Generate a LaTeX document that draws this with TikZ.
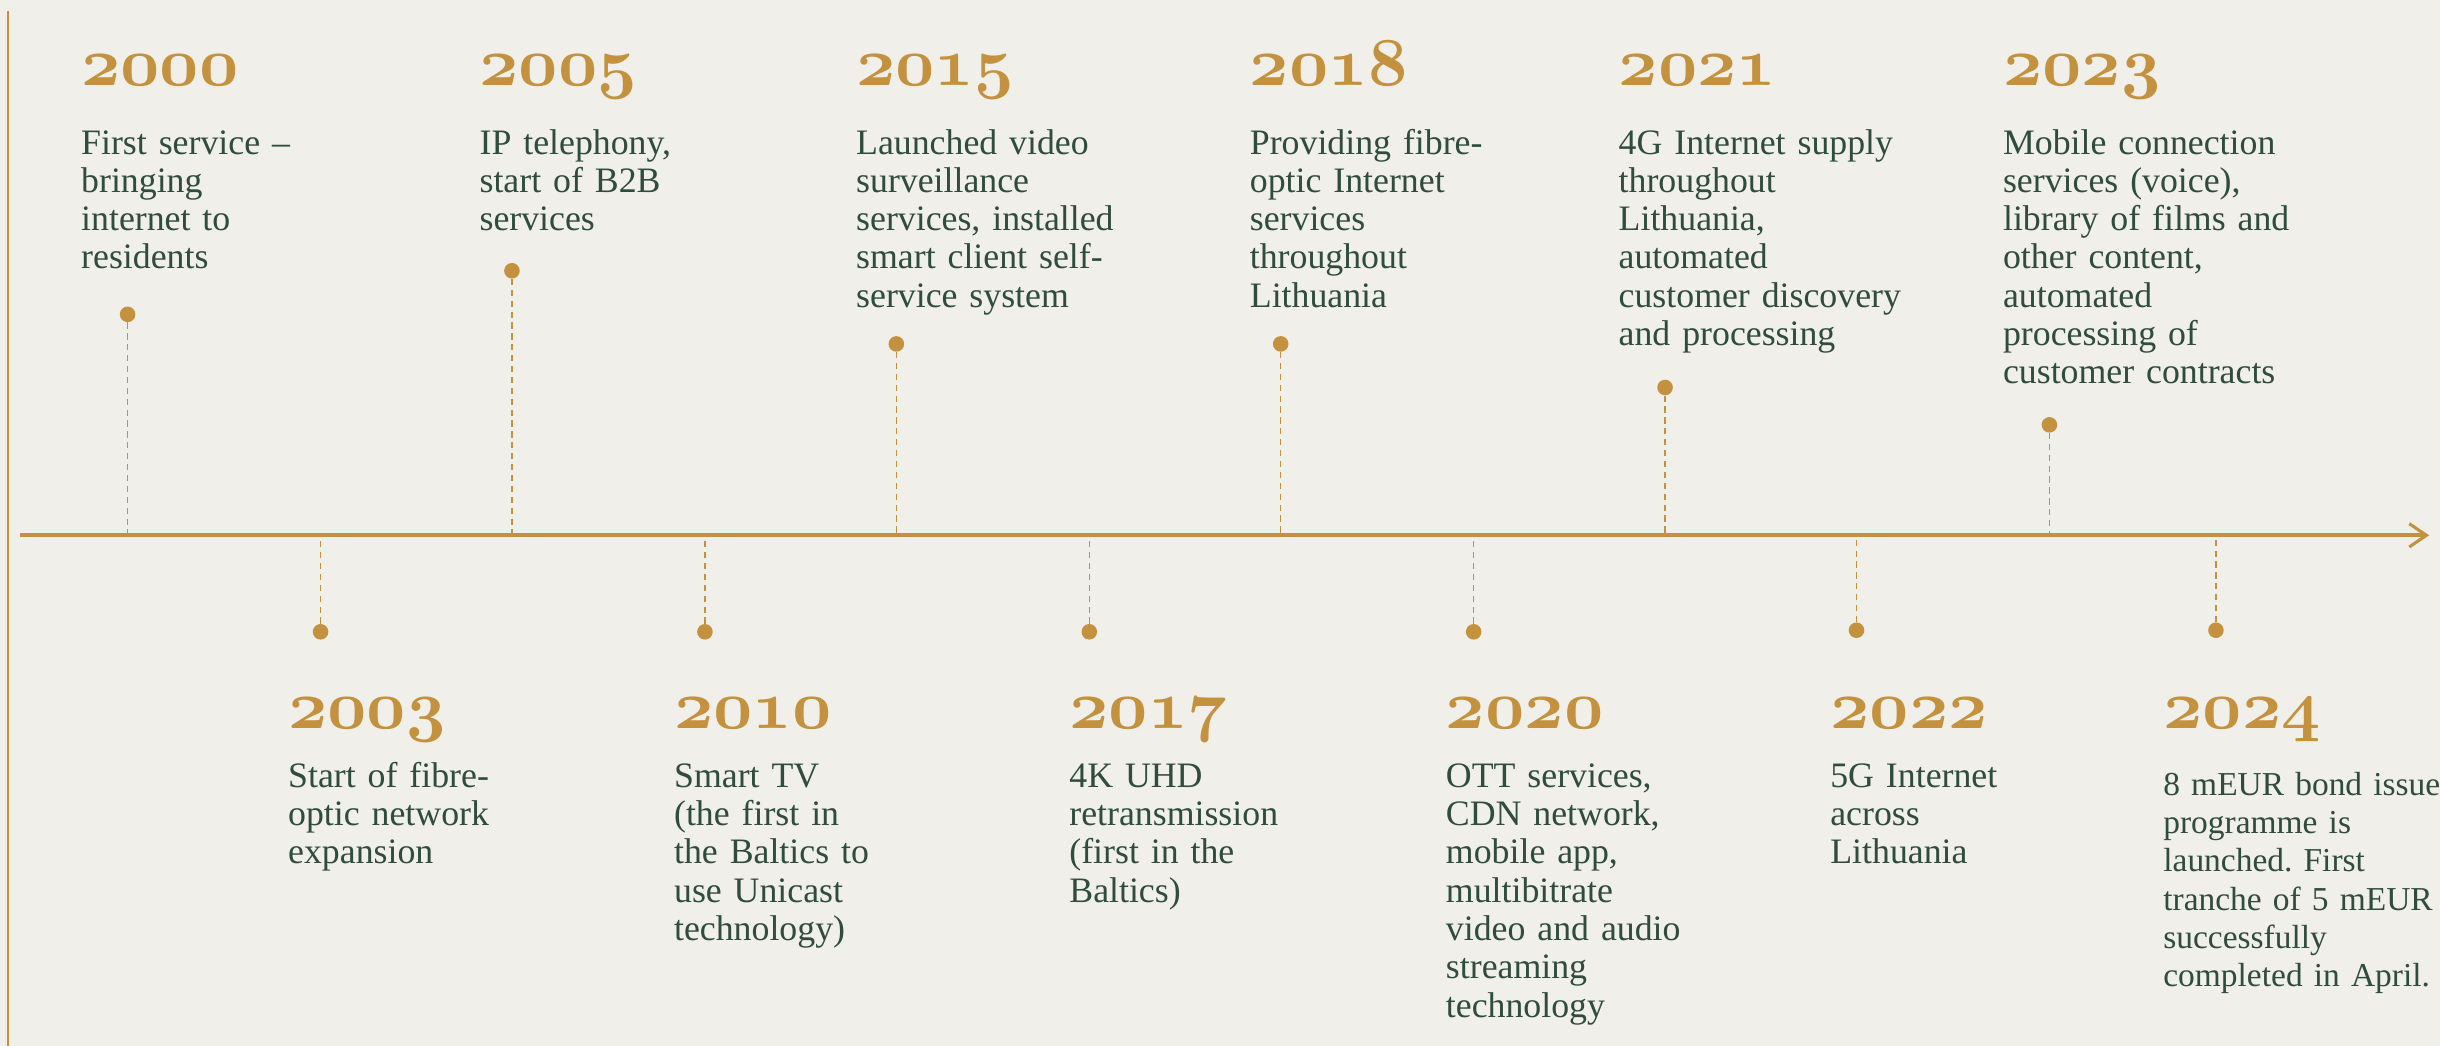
\RequirePackage{fix-cm}
\documentclass[tikz,border=0pt]{standalone}
\usepackage{fontspec}
\setmainfont{Liberation Serif}
\usetikzlibrary{arrows.meta}
\definecolor{gold}{HTML}{C4923E}
\definecolor{ink}{HTML}{2F4C3C}
\definecolor{bg}{HTML}{F0EFEA}
\frenchspacing
\begin{document}
\begin{tikzpicture}[x=1pt,y=-1pt,
  year/.style={anchor=base west, inner sep=0pt, text=gold, font=\fontsize{44}{44}\usefont{OML}{cmm}{b}{it}},
  desc/.style={anchor=base west, inner sep=0pt, text=ink, align=left, text width=230pt, font=\fontsize{23}{24.6}\selectfont},
  descw/.style={desc, font=\fontsize{21.5}{24.6}\selectfont},
  dot/.style={circle, fill=gold, inner sep=0pt, minimum size=10pt},
  stem/.style={gold, line width=0.8pt, dash pattern=on 4pt off 3pt},
  axisline/.style={gold, line width=2.6pt, -{Straight Barb[length=11pt,width=15pt,line width=2pt]}},
  sideline/.style={gold, line width=1.3pt}
]
\fill[bg] (0,0) rectangle (1568,672);
\useasboundingbox (0,0) rectangle (1568,672);

% side line and axis
\coordinate (sideT) at (5,7);
\coordinate (sideB) at (5,672);
\draw[sideline] (sideT) -- (sideB);
\coordinate (axL) at (13,344);
\coordinate (axR) at (1561,344);
\draw[axisline] (axL) -- (axR);

% dots and stems
\foreach \n/\x/\y in {2000/82/202, 2005/329/174, 2015/576/221, 2018/823/221, 2021/1070/249, 2023/1317/273,
                      2003/206/406, 2010/453/406, 2017/700/406, 2020/947/406, 2022/1193/405, 2024/1424/405}{
  \node[dot] (d\n) at (\x,\y) {};
  \coordinate (a\n) at (\x,344);
  \draw[stem] (d\n) -- (a\n);
}

% top events
\node[year] (y2000) at (52,55) {2000};
\node[desc] (t2000) at (52,99) {First service –\\bringing\\internet to\\residents};

\node[year] (y2005) at (308,55) {2005};
\node[desc] (t2005) at (308,99) {IP telephony,\\start of B2B\\services};

\node[year] (y2015) at (550,55) {2015};
\node[desc] (t2015) at (550,99) {Launched video\\surveillance\\services, installed\\smart client self-\\service system};

\node[year] (y2018) at (803,55) {2018};
\node[desc] (t2018) at (803,99) {Providing fibre-\\optic Internet\\services\\throughout\\Lithuania};

\node[year] (y2021) at (1040,55) {2021};
\node[desc] (t2021) at (1040,99) {4G Internet supply\\throughout\\Lithuania,\\automated\\customer discovery\\and processing};

\node[year] (y2023) at (1287,55) {2023};
\node[desc] (t2023) at (1287,99) {Mobile connection\\services (voice),\\library of films and\\other content,\\automated\\processing of\\customer contracts};

% bottom events
\node[year] (y2003) at (185,468) {2003};
\node[desc] (t2003) at (185,506) {Start of fibre-\\optic network\\expansion};

\node[year] (y2010) at (433,468) {2010};
\node[desc] (t2010) at (433,506) {Smart TV\\(the first in\\the Baltics to\\use Unicast\\technology)};

\node[year] (y2017) at (687,468) {2017};
\node[desc] (t2017) at (687,506) {4K UHD\\retransmission\\(first in the\\Baltics)};

\node[year] (y2020) at (929,468) {2020};
\node[desc] (t2020) at (929,506) {OTT services,\\CDN network,\\mobile app,\\multibitrate\\video and audio\\streaming\\technology};

\node[year] (y2022) at (1176,468) {2022};
\node[desc] (t2022) at (1176,506) {5G Internet\\across\\Lithuania};

\node[year] (y2024) at (1390,468) {2024};
\node[descw] (t2024) at (1390,511) {8 mEUR bond issue\\programme is\\launched. First\\tranche of 5 mEUR\\successfully\\completed in April.};
\end{tikzpicture}
\end{document}
